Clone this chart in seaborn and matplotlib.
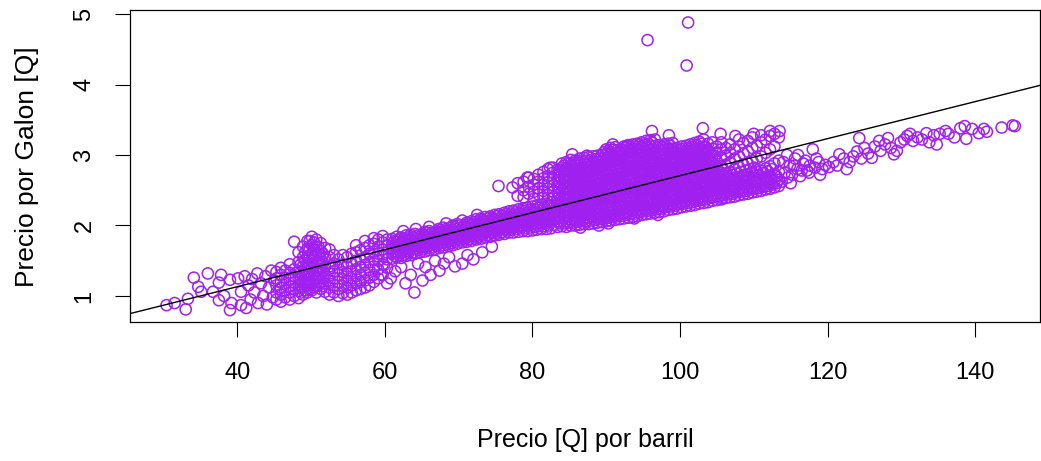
import matplotlib
matplotlib.use("Agg")
import matplotlib.pyplot as plt
import pandas as pd
import seaborn as sns

# ---------------- data ----------------
x_ticks = [40, 60, 80, 100, 120, 140]
y_ticks = [1, 2, 3, 4, 5]
x_label = "Precio [Q] por barril"
y_label = "Precio por Galon [Q]"

# fitted line y = a + b x (abline)
fit_intercept = 0.082
fit_slope = 0.02625

# sparse low-price points (x 30-45)
left_x = [30.4, 31.5, 33.0, 33.3, 34.1, 34.7, 35.1, 36.0, 36.7, 37.5,
          37.8, 37.5, 38.2, 39.0, 39.2, 39.0, 40.1, 40.5, 40.5, 41.0,
          41.2, 41.5, 41.8, 42.0, 42.3, 42.7, 42.8, 43.2, 43.5, 43.8,
          44.0, 44.3, 44.6, 44.8, 45.0]
left_y = [0.87, 0.90, 0.81, 0.96, 1.26, 1.13, 1.06, 1.32, 1.06, 0.94,
          1.30, 1.19, 1.00, 1.23, 0.90, 0.80, 1.25, 1.06, 0.87, 1.28,
          0.83, 1.15, 0.95, 1.24, 1.05, 1.32, 0.90, 1.18, 1.00, 1.28,
          0.88, 1.12, 1.36, 0.98, 1.22]

# columns of points, x 45-60 (bump and valley)
mid_x = [45.3, 45.9, 46.5, 47.1, 47.7, 48.3, 48.9, 49.5, 50.1, 50.7,
         51.3, 51.9, 52.5, 53.1, 53.7, 54.3, 54.9, 55.5, 56.1, 56.7,
         57.3, 57.9, 58.5, 59.1, 59.7, 60.3]
mid_y = [[0.95, 1.05, 1.15, 1.25, 1.34],
         [0.92, 1.02, 1.12, 1.20, 1.30, 1.40],
         [0.98, 1.08, 1.17, 1.26, 1.36],
         [0.95, 1.05, 1.14, 1.23, 1.33, 1.45],
         [1.00, 1.10, 1.19, 1.28, 1.38, 1.77],
         [0.97, 1.07, 1.16, 1.25, 1.35, 1.48, 1.62],
         [1.02, 1.12, 1.22, 1.31, 1.42, 1.55, 1.70],
         [1.05, 1.15, 1.24, 1.34, 1.45, 1.56, 1.67, 1.78],
         [1.08, 1.18, 1.28, 1.38, 1.50, 1.60, 1.72, 1.84],
         [1.05, 1.15, 1.26, 1.36, 1.47, 1.58, 1.69, 1.80],
         [1.10, 1.20, 1.31, 1.42, 1.53, 1.64, 1.75],
         [1.06, 1.18, 1.30, 1.42, 1.55, 1.68],
         [1.02, 1.12, 1.22, 1.32, 1.42, 1.55, 1.66],
         [1.05, 1.15, 1.25, 1.35, 1.46, 1.58],
         [1.00, 1.10, 1.20, 1.30, 1.40, 1.52],
         [1.04, 1.14, 1.24, 1.34, 1.45, 1.58],
         [1.02, 1.12, 1.22, 1.32, 1.42, 1.55],
         [1.05, 1.15, 1.25, 1.35, 1.46, 1.60],
         [1.08, 1.18, 1.28, 1.38, 1.50, 1.62, 1.72],
         [1.10, 1.20, 1.30, 1.41, 1.52, 1.65],
         [1.12, 1.22, 1.33, 1.44, 1.55, 1.68, 1.78],
         [1.15, 1.26, 1.37, 1.48, 1.60, 1.72],
         [1.20, 1.30, 1.42, 1.52, 1.63, 1.74, 1.82],
         [1.25, 1.38, 1.50, 1.60, 1.70, 1.80],
         [1.30, 1.45, 1.56, 1.66, 1.76, 1.85],
         [1.18, 1.40, 1.52, 1.62, 1.72, 1.80]]

# extra points in the dense bump (x 48-52)
mid2_x = [48.6, 49.2, 49.8, 50.4, 51.0, 51.6]
mid2_y = [[1.05, 1.14, 1.24, 1.34, 1.45],
          [1.08, 1.18, 1.28, 1.38, 1.50, 1.62],
          [1.10, 1.20, 1.30, 1.42, 1.54, 1.66, 1.78],
          [1.12, 1.22, 1.32, 1.44, 1.55, 1.66, 1.76],
          [1.15, 1.25, 1.36, 1.48, 1.60, 1.70],
          [1.14, 1.25, 1.36, 1.48, 1.60]]

# dense lower band, x 61-83
band_x = [61.0, 61.6, 62.2, 62.9, 63.5, 64.1, 64.8, 65.4, 66.0, 66.7,
          67.3, 67.9, 68.6, 69.2, 69.8, 70.5, 71.1, 71.7, 72.4, 73.0,
          73.6, 74.3, 74.9, 75.5, 76.2, 76.8, 77.4, 78.1, 78.7, 79.3,
          80.0, 80.6, 81.2, 81.9, 82.5]
band_y = [[1.53, 1.60, 1.67, 1.74, 1.81],
          [1.55, 1.62, 1.70, 1.77, 1.84],
          [1.54, 1.61, 1.68, 1.76, 1.83],
          [1.57, 1.64, 1.71, 1.79, 1.86],
          [1.58, 1.66, 1.73, 1.80, 1.87],
          [1.60, 1.67, 1.74, 1.82, 1.88],
          [1.62, 1.69, 1.76, 1.84],
          [1.63, 1.70, 1.78, 1.85, 1.91],
          [1.65, 1.72, 1.79, 1.86, 1.92],
          [1.66, 1.74, 1.81, 1.88],
          [1.68, 1.75, 1.82, 1.89, 1.95],
          [1.69, 1.76, 1.84, 1.91, 1.97],
          [1.71, 1.78, 1.85, 1.93],
          [1.72, 1.79, 1.86, 1.94, 2.00],
          [1.74, 1.81, 1.88, 1.95, 2.02],
          [1.76, 1.83, 1.90, 1.97],
          [1.77, 1.84, 1.91, 1.98, 2.04],
          [1.78, 1.86, 1.93, 2.00, 2.06],
          [1.80, 1.87, 1.94, 2.02, 2.09],
          [1.81, 1.88, 1.96, 2.03, 2.10],
          [1.83, 1.90, 1.97, 2.05, 2.12],
          [1.84, 1.91, 1.99, 2.06, 2.13],
          [1.86, 1.93, 2.00, 2.08, 2.15],
          [1.87, 1.94, 2.02, 2.09, 2.16],
          [1.88, 1.95, 2.03, 2.10, 2.18],
          [1.90, 1.97, 2.04, 2.12, 2.20],
          [1.90, 1.98, 2.05, 2.13, 2.21],
          [1.91, 1.99, 2.07, 2.15, 2.23],
          [1.92, 2.00, 2.08, 2.16, 2.24],
          [1.92, 2.01, 2.09, 2.17, 2.25],
          [1.93, 2.02, 2.10, 2.18, 2.27],
          [1.94, 2.03, 2.11, 2.19, 2.28],
          [1.95, 2.04, 2.12, 2.21, 2.29],
          [1.95, 2.04, 2.13, 2.22, 2.31],
          [1.96, 2.05, 2.14, 2.23, 2.33]]

# in-between points of the lower band
band2_x = [61.3, 61.9, 62.6, 63.2, 63.8, 64.5, 65.1, 65.7, 66.4, 67.0,
           67.6, 68.3, 68.9, 69.5, 70.2, 70.8, 71.4, 72.1, 72.7, 73.3,
           74.0, 74.6, 75.2, 75.9, 76.5, 77.1, 77.8, 78.4, 79.0, 79.7,
           80.3, 80.9, 81.6, 82.2, 82.9]
band2_y = [[1.57, 1.64, 1.71, 1.78], [1.58, 1.65, 1.72, 1.80],
           [1.59, 1.66, 1.74, 1.81], [1.61, 1.68, 1.75, 1.83],
           [1.62, 1.70, 1.77, 1.84], [1.65, 1.72, 1.79, 1.86],
           [1.66, 1.73, 1.81, 1.88], [1.68, 1.75, 1.82, 1.89],
           [1.69, 1.77, 1.84, 1.90], [1.71, 1.78, 1.85, 1.92],
           [1.72, 1.80, 1.87, 1.94], [1.74, 1.81, 1.88, 1.95],
           [1.75, 1.82, 1.90, 1.97], [1.77, 1.84, 1.91, 1.98],
           [1.79, 1.86, 1.93, 2.00], [1.80, 1.87, 1.94, 2.01],
           [1.81, 1.89, 1.96, 2.03], [1.83, 1.90, 1.98, 2.05],
           [1.84, 1.92, 1.99, 2.06], [1.86, 1.93, 2.01, 2.08],
           [1.87, 1.95, 2.02, 2.10], [1.89, 1.96, 2.04, 2.11],
           [1.90, 1.98, 2.05, 2.13], [1.91, 1.99, 2.06, 2.14],
           [1.93, 2.00, 2.08, 2.16], [1.94, 2.01, 2.09, 2.17],
           [1.95, 2.03, 2.11, 2.19], [1.96, 2.04, 2.12, 2.20],
           [1.96, 2.05, 2.13, 2.21], [1.97, 2.06, 2.14, 2.22],
           [1.98, 2.07, 2.15, 2.23], [1.99, 2.08, 2.16, 2.25],
           [1.99, 2.08, 2.17, 2.26], [2.00, 2.09, 2.18, 2.28],
           [2.01, 2.10, 2.19, 2.28]]

# start of the upper cloud, x 75-83
up_x = [75.4, 77.3, 78.0, 78.8, 79.5, 80.2, 80.8, 81.5, 82.1, 82.8]
up_y = [[2.56],
        [2.54],
        [2.42, 2.60],
        [2.40, 2.50, 2.62],
        [2.45, 2.55, 2.68],
        [2.38, 2.48, 2.58, 2.66],
        [2.44, 2.53, 2.62, 2.72],
        [2.40, 2.49, 2.58, 2.67, 2.76],
        [2.43, 2.52, 2.61, 2.70, 2.80],
        [2.40, 2.48, 2.57, 2.66, 2.75, 2.82]]

# main cloud, x 83-114
cloud_x = [83.4, 84.0, 84.6, 85.2, 85.8, 86.4, 87.0, 87.6, 88.2, 88.8,
           89.4, 90.0, 90.6, 91.2, 91.8, 92.4, 93.0, 93.6, 94.2, 94.8,
           95.4, 96.0, 96.6, 97.2, 97.8, 98.4, 99.0, 99.6, 100.2, 100.8,
           101.4, 102.0, 102.6, 103.2, 103.8, 104.4, 105.0, 105.6, 106.2, 106.8,
           107.4, 108.0, 108.6, 109.2, 109.8, 110.4, 111.0, 111.6, 112.2, 112.8,
           113.4]
cloud_y = [[1.98, 2.06, 2.14, 2.22, 2.30, 2.39, 2.47, 2.55, 2.63, 2.71, 2.79],
           [1.99, 2.07, 2.15, 2.24, 2.32, 2.40, 2.49, 2.57, 2.65, 2.74, 2.82, 2.88],
           [1.98, 2.06, 2.15, 2.23, 2.31, 2.40, 2.48, 2.56, 2.65, 2.73, 2.81, 2.90],
           [2.00, 2.08, 2.17, 2.25, 2.33, 2.42, 2.50, 2.58, 2.67, 2.75, 2.84, 2.93],
           [2.00, 2.09, 2.17, 2.26, 2.34, 2.43, 2.51, 2.60, 2.68, 2.77, 2.85, 2.92],
           [2.01, 2.09, 2.18, 2.26, 2.35, 2.43, 2.52, 2.60, 2.69, 2.77, 2.86, 2.95],
           [2.02, 2.10, 2.19, 2.27, 2.36, 2.44, 2.53, 2.61, 2.70, 2.78, 2.87, 2.96],
           [2.02, 2.11, 2.19, 2.28, 2.36, 2.45, 2.53, 2.62, 2.70, 2.79, 2.88, 2.97],
           [2.03, 2.12, 2.20, 2.29, 2.37, 2.46, 2.54, 2.63, 2.72, 2.80, 2.89, 2.98],
           [2.04, 2.12, 2.21, 2.30, 2.38, 2.47, 2.55, 2.64, 2.73, 2.81, 2.90, 2.99],
           [2.05, 2.13, 2.22, 2.31, 2.39, 2.48, 2.57, 2.65, 2.74, 2.83, 2.91, 3.00],
           [2.06, 2.14, 2.23, 2.32, 2.40, 2.49, 2.58, 2.66, 2.75, 2.84, 2.92, 3.01, 3.08],
           [2.07, 2.15, 2.24, 2.33, 2.41, 2.50, 2.59, 2.67, 2.76, 2.85, 2.93, 3.02, 3.10],
           [2.08, 2.16, 2.25, 2.34, 2.42, 2.51, 2.60, 2.68, 2.77, 2.86, 2.94, 3.03, 3.11],
           [2.09, 2.17, 2.26, 2.35, 2.43, 2.52, 2.61, 2.69, 2.78, 2.87, 2.95, 3.04],
           [2.10, 2.18, 2.27, 2.36, 2.44, 2.53, 2.62, 2.70, 2.79, 2.88, 2.96, 3.05, 3.12],
           [2.11, 2.20, 2.28, 2.37, 2.46, 2.54, 2.63, 2.72, 2.80, 2.89, 2.98, 3.06, 3.14],
           [2.12, 2.21, 2.29, 2.38, 2.47, 2.55, 2.64, 2.73, 2.81, 2.90, 2.99, 3.07, 3.15],
           [2.13, 2.22, 2.30, 2.39, 2.48, 2.56, 2.65, 2.74, 2.82, 2.91, 3.00, 3.08, 3.16],
           [2.15, 2.23, 2.32, 2.40, 2.49, 2.58, 2.66, 2.75, 2.84, 2.92, 3.01, 3.10, 3.18],
           [2.16, 2.24, 2.33, 2.42, 2.50, 2.59, 2.68, 2.76, 2.85, 2.94, 3.02, 3.11, 3.20],
           [2.17, 2.25, 2.34, 2.43, 2.51, 2.60, 2.69, 2.77, 2.86, 2.95, 3.03, 3.12, 3.21],
           [2.18, 2.26, 2.35, 2.44, 2.52, 2.61, 2.70, 2.78, 2.87, 2.96, 3.04, 3.13, 3.22],
           [2.19, 2.28, 2.36, 2.45, 2.54, 2.62, 2.71, 2.80, 2.88, 2.97, 3.06, 3.14],
           [2.20, 2.29, 2.37, 2.46, 2.55, 2.63, 2.72, 2.81, 2.89, 2.98, 3.07, 3.15],
           [2.22, 2.30, 2.39, 2.47, 2.56, 2.65, 2.73, 2.82, 2.91, 2.99, 3.08, 3.16],
           [2.23, 2.31, 2.40, 2.49, 2.57, 2.66, 2.75, 2.83, 2.92, 3.01, 3.09, 3.17],
           [2.24, 2.33, 2.41, 2.50, 2.59, 2.67, 2.76, 2.85, 2.93, 3.02, 3.10],
           [2.26, 2.34, 2.43, 2.51, 2.60, 2.69, 2.77, 2.86, 2.95, 3.03, 3.12],
           [2.27, 2.35, 2.44, 2.53, 2.61, 2.70, 2.79, 2.87, 2.96, 3.05, 3.13],
           [2.28, 2.37, 2.45, 2.54, 2.63, 2.71, 2.80, 2.89, 2.97, 3.06, 3.15],
           [2.29, 2.38, 2.47, 2.55, 2.64, 2.73, 2.81, 2.90, 2.99, 3.08, 3.17],
           [2.31, 2.39, 2.48, 2.57, 2.65, 2.74, 2.83, 2.92, 3.01, 3.10, 3.19],
           [2.32, 2.41, 2.49, 2.58, 2.67, 2.75, 2.84, 2.94, 3.03, 3.12, 3.22],
           [2.33, 2.42, 2.51, 2.59, 2.68, 2.77, 2.86, 2.96, 3.06, 3.16],
           [2.35, 2.43, 2.52, 2.61, 2.69, 2.78, 2.89, 2.99, 3.09, 3.18],
           [2.36, 2.45, 2.53, 2.62, 2.71, 2.80, 2.91, 3.02, 3.12],
           [2.37, 2.46, 2.55, 2.63, 2.72, 2.84, 2.96, 3.08, 3.18],
           [2.39, 2.47, 2.56, 2.65, 2.74, 2.86, 2.99, 3.10],
           [2.40, 2.49, 2.57, 2.66, 2.76, 2.90, 3.03, 3.15],
           [2.41, 2.50, 2.59, 2.68, 2.80, 2.95, 3.08],
           [2.43, 2.51, 2.60, 2.69, 2.83, 2.98, 3.12, 3.22],
           [2.44, 2.53, 2.62, 2.71, 2.86, 3.02, 3.17],
           [2.45, 2.54, 2.63, 2.72, 2.88, 3.05, 3.20],
           [2.47, 2.55, 2.64, 2.74, 2.92, 3.10, 3.25],
           [2.48, 2.57, 2.66, 2.76, 2.95, 3.13],
           [2.49, 2.58, 2.67, 2.78, 2.98, 3.18, 3.28],
           [2.51, 2.60, 2.69, 2.81, 3.03, 3.22],
           [2.52, 2.61, 2.71, 2.84, 3.08, 3.27],
           [2.54, 2.63, 2.73, 2.88, 3.12, 3.30],
           [2.56, 2.65, 2.76, 2.92, 3.25]]

# in-between points of the main cloud
cloud2_x = [83.7, 84.3, 84.9, 85.5, 86.1, 86.7, 87.3, 87.9, 88.5, 89.1,
            89.7, 90.3, 90.9, 91.5, 92.1, 92.7, 93.3, 93.9, 94.5, 95.1,
            95.7, 96.3, 96.9, 97.5, 98.1, 98.7, 99.3, 99.9, 100.5, 101.1,
            101.7, 102.3, 102.9, 103.5, 104.1, 104.7, 105.3, 105.9, 106.5, 107.1,
            107.7, 108.3, 108.9, 109.5, 110.1, 110.7, 111.3, 111.9, 112.5, 113.1]
cloud2_y = [[2.03, 2.11, 2.19, 2.28, 2.36, 2.44, 2.52, 2.61, 2.69, 2.77],
            [2.03, 2.11, 2.19, 2.28, 2.36, 2.44, 2.53, 2.61, 2.69, 2.78, 2.85],
            [2.04, 2.12, 2.21, 2.29, 2.37, 2.46, 2.54, 2.62, 2.71, 2.79, 2.88],
            [2.04, 2.13, 2.21, 2.30, 2.38, 2.46, 2.55, 2.63, 2.72, 2.80, 2.89],
            [2.05, 2.13, 2.22, 2.30, 2.39, 2.47, 2.56, 2.64, 2.73, 2.81, 2.90],
            [2.06, 2.14, 2.23, 2.31, 2.40, 2.48, 2.57, 2.65, 2.74, 2.82, 2.91],
            [2.06, 2.15, 2.23, 2.32, 2.40, 2.49, 2.57, 2.66, 2.74, 2.83, 2.92],
            [2.07, 2.16, 2.24, 2.33, 2.41, 2.50, 2.58, 2.67, 2.76, 2.84, 2.93],
            [2.08, 2.16, 2.25, 2.34, 2.42, 2.51, 2.59, 2.68, 2.77, 2.85, 2.94],
            [2.09, 2.17, 2.26, 2.35, 2.43, 2.52, 2.60, 2.69, 2.78, 2.86, 2.95],
            [2.10, 2.18, 2.27, 2.36, 2.44, 2.53, 2.62, 2.70, 2.79, 2.88, 2.96, 3.04],
            [2.11, 2.19, 2.28, 2.37, 2.45, 2.54, 2.63, 2.71, 2.80, 2.89, 2.97, 3.06],
            [2.12, 2.20, 2.29, 2.38, 2.46, 2.55, 2.64, 2.72, 2.81, 2.90, 2.98, 3.07],
            [2.13, 2.21, 2.30, 2.39, 2.47, 2.56, 2.65, 2.73, 2.82, 2.91, 2.99, 3.07],
            [2.14, 2.22, 2.31, 2.40, 2.48, 2.57, 2.66, 2.74, 2.83, 2.92, 3.00, 3.08],
            [2.15, 2.24, 2.32, 2.41, 2.50, 2.58, 2.67, 2.76, 2.84, 2.93, 3.02, 3.10],
            [2.16, 2.25, 2.33, 2.42, 2.51, 2.59, 2.68, 2.77, 2.85, 2.94, 3.03, 3.11],
            [2.17, 2.26, 2.34, 2.43, 2.52, 2.60, 2.69, 2.78, 2.86, 2.95, 3.04, 3.12],
            [2.19, 2.27, 2.36, 2.44, 2.53, 2.62, 2.70, 2.79, 2.88, 2.96, 3.05, 3.14],
            [2.20, 2.28, 2.37, 2.46, 2.54, 2.63, 2.72, 2.80, 2.89, 2.98, 3.06, 3.15],
            [2.21, 2.29, 2.38, 2.47, 2.55, 2.64, 2.73, 2.81, 2.90, 2.99, 3.07, 3.16],
            [2.22, 2.30, 2.39, 2.48, 2.56, 2.65, 2.74, 2.82, 2.91, 3.00, 3.08, 3.17],
            [2.23, 2.32, 2.40, 2.49, 2.58, 2.66, 2.75, 2.84, 2.92, 3.01, 3.10],
            [2.24, 2.33, 2.41, 2.50, 2.59, 2.67, 2.76, 2.85, 2.93, 3.02, 3.11],
            [2.26, 2.34, 2.43, 2.51, 2.60, 2.69, 2.77, 2.86, 2.95, 3.03, 3.12],
            [2.27, 2.35, 2.44, 2.53, 2.61, 2.70, 2.79, 2.87, 2.96, 3.05, 3.13],
            [2.28, 2.37, 2.45, 2.54, 2.63, 2.71, 2.80, 2.89, 2.97, 3.06],
            [2.30, 2.38, 2.47, 2.55, 2.64, 2.73, 2.81, 2.90, 2.99, 3.07],
            [2.31, 2.39, 2.48, 2.57, 2.65, 2.74, 2.83, 2.91, 3.00, 3.09],
            [2.32, 2.41, 2.49, 2.58, 2.67, 2.75, 2.84, 2.93, 3.01, 3.10],
            [2.33, 2.42, 2.51, 2.59, 2.68, 2.77, 2.85, 2.94, 3.03, 3.12],
            [2.35, 2.43, 2.52, 2.61, 2.69, 2.78, 2.87, 2.96, 3.05, 3.14],
            [2.36, 2.45, 2.53, 2.62, 2.71, 2.79, 2.89, 2.98, 3.07, 3.16],
            [2.37, 2.46, 2.55, 2.63, 2.72, 2.81, 2.91, 3.01, 3.11],
            [2.39, 2.47, 2.56, 2.65, 2.73, 2.83, 2.94, 3.04],
            [2.40, 2.49, 2.57, 2.66, 2.75, 2.85, 2.97],
            [2.41, 2.50, 2.59, 2.67, 2.77],
            [2.43, 2.51, 2.60, 2.69, 2.79],
            [2.44, 2.53, 2.61, 2.70],
            [2.45, 2.54, 2.63, 2.72],
            [2.47, 2.55, 2.64, 2.74],
            [2.48, 2.57, 2.66, 2.76],
            [2.49, 2.58, 2.67, 2.78],
            [2.51, 2.60, 2.69, 2.80],
            [2.52, 2.61, 2.71, 2.82],
            [2.53, 2.62, 2.72],
            [2.55, 2.64, 2.75],
            [2.56, 2.65, 2.77],
            [2.58, 2.67, 2.80],
            [2.60, 2.70]]

# scattered rings around the dense parts
ring_x = [59.5, 59.9, 60.8, 61.4, 62.2, 62.8, 63.5, 64.0, 64.5, 65.1,
          65.5, 66.2, 66.8, 67.4, 68.0, 68.7, 69.5, 70.5, 71.2, 72.0,
          73.2, 74.5, 62.5, 64.2, 66.0, 68.3, 70.5, 72.5, 86.5, 89.0,
          90.3, 93.8, 97.0, 105.7, 79.3, 82.4, 85.4, 87.4, 90.9, 92.8,
          96.2, 98.5, 103.1, 105.5, 107.5, 110.0, 112.2, 113.5]
ring_y = [1.30, 1.44, 1.25, 1.35, 1.41, 1.18, 1.30, 1.05, 1.46, 1.22,
          1.41, 1.30, 1.50, 1.36, 1.46, 1.55, 1.42, 1.46, 1.58, 1.52,
          1.62, 1.70, 1.92, 1.95, 1.98, 2.03, 2.07, 2.15, 1.97, 2.00,
          2.03, 2.10, 2.15, 2.39, 2.68, 2.82, 3.01, 2.99, 3.15, 3.13,
          3.34, 3.28, 3.38, 3.30, 3.27, 3.30, 3.34, 3.34]

# high-price tail, x 113-146
tail_x = [113.8, 114.2, 114.6, 114.9, 115.2, 115.6, 115.9, 116.3, 116.7, 117.2,
          117.6, 118.0, 118.3, 118.8, 119.3, 119.7, 120.2, 120.8, 121.3, 121.6,
          122.2, 122.6, 123.0, 123.5, 124.0, 124.3, 124.6, 125.0, 125.5, 126.0,
          126.4, 127.0, 127.2, 127.8, 128.2, 128.6, 129.0, 129.4, 129.9, 130.4,
          130.8, 131.2, 131.6, 132.2, 132.8, 133.4, 133.8, 134.4, 134.8, 135.2,
          136.0, 136.4, 137.2, 138.0, 138.6, 138.8, 139.6, 140.5, 141.2, 141.6,
          143.6, 145.1, 145.4, 114.0, 114.5, 115.0, 115.5, 116.0, 116.5, 117.0,
          117.5, 118.5, 119.0]
tail_y = [2.62, 2.75, 2.68, 2.85, 2.72, 2.95, 2.80, 2.70, 2.88, 2.78,
          2.85, 3.08, 2.82, 2.90, 2.80, 2.86, 2.83, 2.90, 2.85, 3.01,
          2.95, 2.80, 2.90, 2.98, 3.05, 3.24, 2.95, 3.10, 3.02, 2.96,
          3.12, 3.20, 3.06, 3.15, 3.24, 3.10, 3.01, 3.06, 3.18, 3.22,
          3.27, 3.30, 3.20, 3.25, 3.22, 3.31, 3.18, 3.28, 3.15, 3.30,
          3.34, 3.30, 3.25, 3.38, 3.41, 3.23, 3.37, 3.31, 3.37, 3.33,
          3.39, 3.42, 3.41, 2.90, 3.00, 2.60, 2.85, 3.00, 2.78, 2.92,
          2.75, 2.95, 2.72]

# outliers
out_x = [95.6, 101.1, 100.9]
out_y = [4.63, 4.88, 4.27]

# ---------------- assemble ----------------
def columns(xs, ys_lists):
    px, py = [], []
    for xv, ys in zip(xs, ys_lists):
        for yv in ys:
            px.append(xv)
            py.append(yv)
    return px, py

all_x, all_y = [], []
for gx, gy in [(left_x, left_y), (ring_x, ring_y), (tail_x, tail_y), (out_x, out_y)]:
    assert len(gx) == len(gy)
    all_x += gx
    all_y += gy
for gx, gy in [(mid_x, mid_y), (mid2_x, mid2_y), (band_x, band_y), (band2_x, band2_y),
               (up_x, up_y), (cloud_x, cloud_y), (cloud2_x, cloud2_y)]:
    assert len(gx) == len(gy)
    cx, cy = columns(gx, gy)
    all_x += cx
    all_y += cy

df = pd.DataFrame({"barril": all_x, "galon": all_y})

# ---------------- plot ----------------
sns.set_style("ticks")
plt.rcParams["font.family"] = ["Liberation Sans", "DejaVu Sans"]
plt.rcParams["text.color"] = "black"
plt.rcParams["axes.labelcolor"] = "black"

fig = plt.figure(figsize=(10.41, 4.61), dpi=100)
ax = fig.add_axes([130 / 1041, (461 - 322) / 461, 910 / 1041, 311.5 / 461])

purple = "#A020F0"
sns.scatterplot(data=df, x="barril", y="galon", ax=ax, marker="o", s=64,
                facecolor="none", edgecolor=purple, linewidth=1.1, legend=False)
ax.axline((0, fit_intercept), slope=fit_slope, color="black", lw=1.0)

ax.set_xlim(25.45, 148.8)
ax.set_ylim(0.631, 5.05)
ax.set_xticks(x_ticks)
ax.set_yticks(y_ticks)
ax.set_xticklabels([str(v) for v in x_ticks])
ax.set_yticklabels([str(v) for v in y_ticks])

for sp in ax.spines.values():
    sp.set_visible(True)
    sp.set_color("black")
    sp.set_linewidth(0.9)

ax.tick_params(axis="both", direction="out", length=10.8, width=0.8,
               colors="black", labelsize=17)
ax.tick_params(axis="x", pad=18)
ax.tick_params(axis="y", pad=14, labelrotation=90)
for lab in ax.get_yticklabels():
    lab.set_va("center")

ax.set_xlabel(x_label, fontsize=18, color="black")
ax.set_ylabel(y_label, fontsize=19, color="black")
ax.xaxis.set_label_coords(0.5, -0.379)
ax.xaxis.label.set_verticalalignment("center")
ax.yaxis.set_label_coords(-0.113, 0.5)
ax.yaxis.label.set_verticalalignment("center")

fig.savefig("out.png", dpi=100)
